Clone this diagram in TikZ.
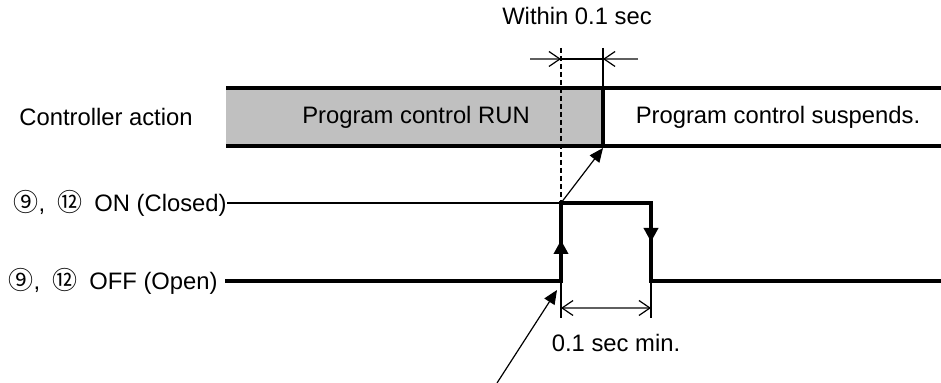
\documentclass[tikz,border=0pt]{standalone}
\usepackage{fontspec}
\setmainfont{Liberation Sans}
\newfontfamily\circfont{Noto Sans CJK JP}
\usetikzlibrary{arrows.meta, positioning}
\definecolor{runfill}{RGB}{192,192,192}
\definecolor{dimgray}{RGB}{95,95,95}
\newcommand{\cnum}[1]{{\circfont\fontsize{12.5}{14}\selectfont #1}}

\begin{document}
\begin{tikzpicture}[x=0.5pt, y=-0.5pt,
  lbl/.style={font=\fontsize{11.9}{14}\selectfont, inner sep=0pt},
  sig/.style={line width=2pt},
  band/.style={line width=1.75pt},
  thin line/.style={line width=0.6pt},
  dimline/.style={dimgray, line width=0.6pt},
  barb/.tip={Straight Barb[length=5.5pt, width=7.5pt, line width=0.6pt, color=black]},
  pointer/.style={line width=0.6pt, -{Triangle[length=7pt, width=6pt]}},
  edge tip/.style={-{Triangle[length=7pt, width=7pt]}}]
  \useasboundingbox (0,0) rectangle (941,383);
  % controller action band
  \fill[runfill] (226,88) rectangle (603,146);
  \draw[band] (226,88) -- (941,88);
  \draw[band] (226,146) -- (941,146);
  \draw[sig] (603,88) -- (603,146);
  \draw[thin line] (603,48) -- (603,88);
  \draw[thin line, dash pattern=on 2.5pt off 1.5pt] (561,48) -- (561,203);
  \node[lbl] (ctrl) at (106,117) {Controller action};
  \node[lbl] (run) at (416,117) {Program control RUN};
  \node[lbl] (susp) at (778,117) {Program control suspends.};
  % within 0.1 sec
  \node[lbl] (within) at (577,16) {Within 0.1 sec};
  \coordinate (wl) at (561,59);
  \coordinate (wr) at (603,59);
  \draw[dimline, -barb] (530,59) -- (wl);
  \draw[dimline, -barb] (638,59) -- (wr);
  \draw[thin line] (wl) -- (wr);
  % input signal
  \node[lbl, anchor=east] (onlbl) at (227,203) {\cnum{⑨},\hspace{6pt}\cnum{⑫}\hspace{6pt}ON (Closed)};
  \node[lbl, anchor=east] (offlbl) at (218,281) {\cnum{⑨},\hspace{6pt}\cnum{⑫}\hspace{6pt}OFF (Open)};
  \coordinate (rise) at (561,281);
  \coordinate (risetop) at (561,203);
  \coordinate (fall) at (651,203);
  \coordinate (fallbot) at (651,281);
  \draw[thin line] (onlbl.east) -- (risetop);
  \draw[sig] ([xshift=3.5pt]offlbl.east) -- (rise) -- (risetop) -- (fall) -- (fallbot) -- (941,281);
  \draw[sig, edge tip] (rise) -- (561,240);
  \draw[sig, edge tip] (fall) -- (651,242);
  % pointers
  \draw[pointer] (risetop) -- (603,148);
  \draw[pointer] (497,383) -- (557,290);
  % 0.1 sec min.
  \draw[thin line] (rise) -- (561,318);
  \draw[thin line] (fallbot) -- (651,318);
  \draw[dimline, barb-barb] (561,308) -- (651,308);
  \node[lbl] (minlbl) at (616,343) {0.1 sec min.};
\end{tikzpicture}
\end{document}
